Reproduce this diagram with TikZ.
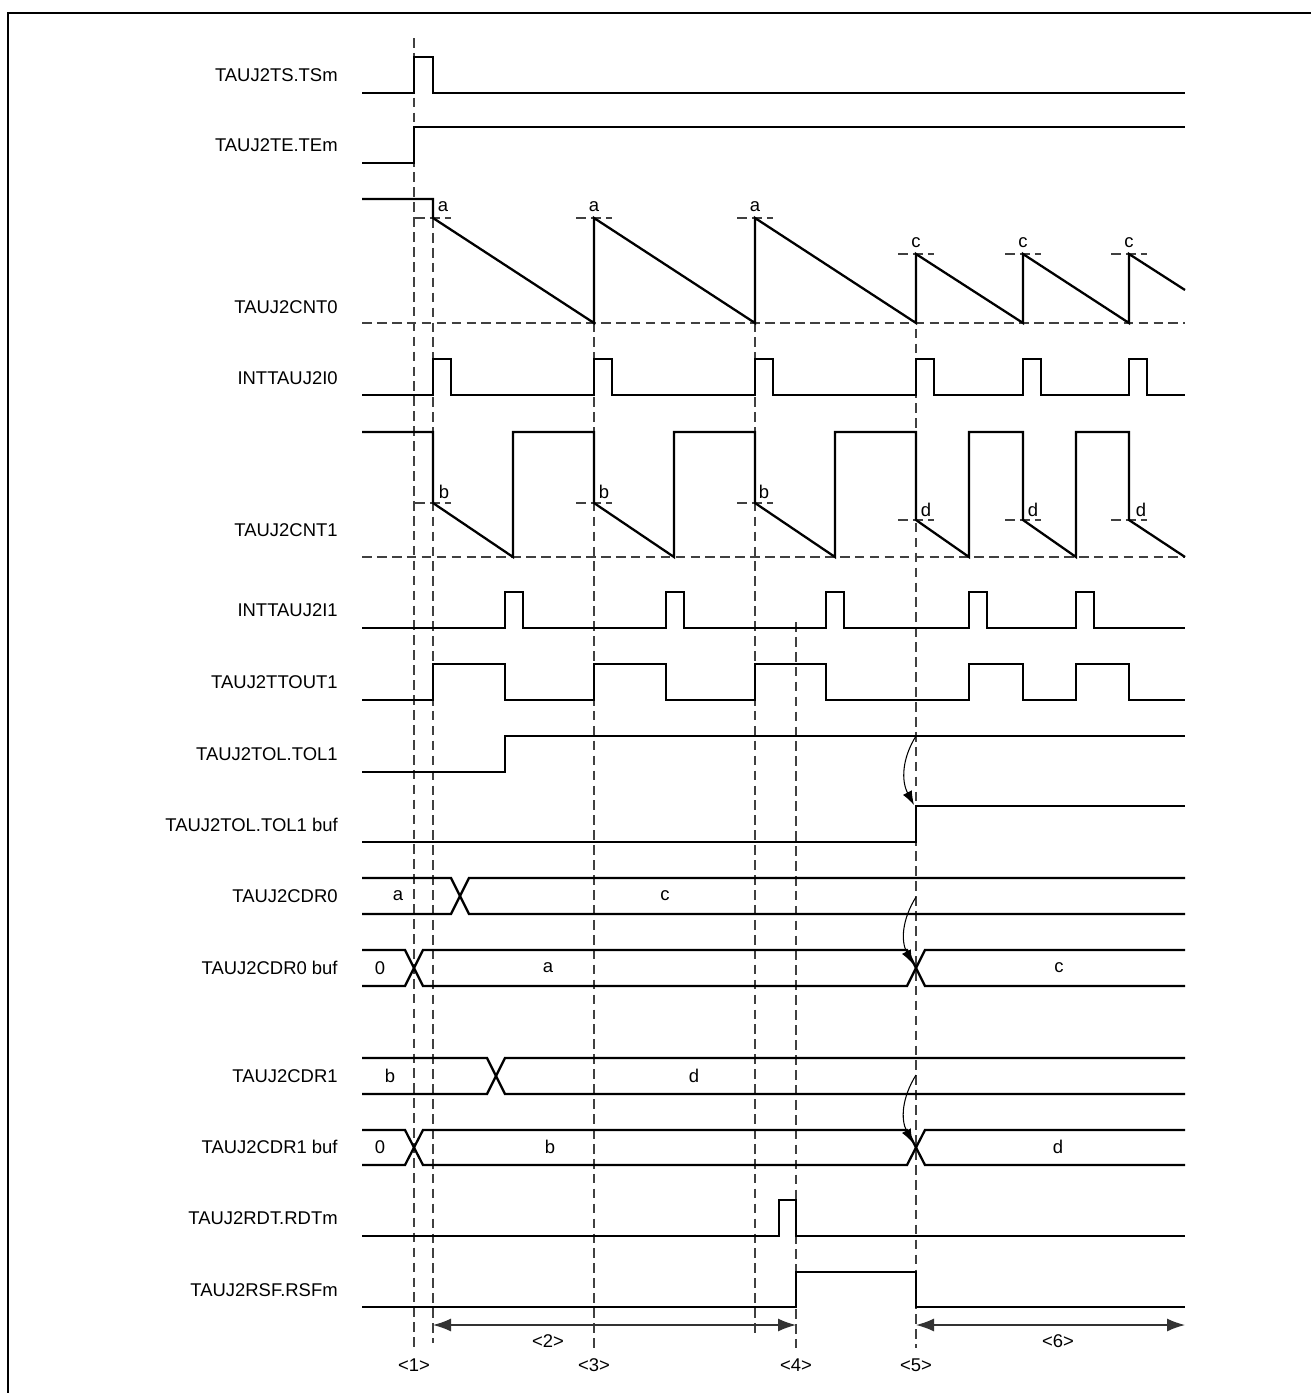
\documentclass[tikz,border=0pt]{standalone}
\usepackage{fontspec}
\setmainfont{Liberation Sans}
\usetikzlibrary{arrows.meta}

\begin{document}
\begin{tikzpicture}[x=0.02cm, y=-0.02cm,
  every node/.style={font=\fontsize{10.5}{12}\selectfont, inner sep=0pt},
  sig/.style={line width=1.3pt},
  guide/.style={black!75, line width=0.75pt, dash pattern=on 5.5pt off 3pt},
  span/.style={black!80, line width=0.8pt, {Latex[length=3.6mm,width=2.6mm]}-{Latex[length=3.6mm,width=2.6mm]}},
  load/.style={line width=0.6pt, -{Latex[length=2.8mm,width=2mm]}}]
\useasboundingbox (0,0) rectangle (1311,1393);
\draw[line width=1.7pt] (8,1393) -- (8,13) -- (1311,13);

\node[anchor=east] (ts) at (338,75) {TAUJ2TS.TSm};
\node[anchor=east] (te) at (338,145) {TAUJ2TE.TEm};
\node[anchor=east] (cnt0) at (338,307) {TAUJ2CNT0};
\node[anchor=east] (int0) at (338,378) {INTTAUJ2I0};
\node[anchor=east] (cnt1) at (338,530) {TAUJ2CNT1};
\node[anchor=east] (int1) at (338,610) {INTTAUJ2I1};
\node[anchor=east] (ttout) at (338,682) {TAUJ2TTOUT1};
\node[anchor=east] (tol) at (338,754) {TAUJ2TOL.TOL1};
\node[anchor=east] (tolbuf) at (338,825) {TAUJ2TOL.TOL1 buf};
\node[anchor=east] (cdr0) at (338,896) {TAUJ2CDR0};
\node[anchor=east] (cdr0buf) at (338,968) {TAUJ2CDR0 buf};
\node[anchor=east] (cdr1) at (338,1076) {TAUJ2CDR1};
\node[anchor=east] (cdr1buf) at (338,1147) {TAUJ2CDR1 buf};
\node[anchor=east] (rdt) at (338,1218) {TAUJ2RDT.RDTm};
\node[anchor=east] (rsf) at (338,1290) {TAUJ2RSF.RSFm};

\draw[guide] (414,38) -- (414,1348);
\draw[guide] (433,218) -- (433,1343);
\draw[guide] (594,218) -- (594,1348);
\draw[guide] (755,218) -- (755,1333);
\draw[guide] (796,622) -- (796,1348);
\draw[guide] (916,254) -- (916,1348);
\draw[guide] (362,323) -- (1185,323);
\draw[guide] (362,557) -- (1185,557);
\foreach \x in {433,594,755} {
  \draw[guide] (\x-18,218) -- (\x+18,218);
  \draw[guide] (\x-18,503) -- (\x+18,503);
}
\foreach \x in {916,1023,1129} {
  \draw[guide] (\x-18,254) -- (\x+18,254);
  \draw[guide] (\x-18,520) -- (\x+18,520);
}

\draw[sig] (362,93) -- (414,93) -- (414,57) -- (433,57) -- (433,93) -- (1185,93);
\draw[sig] (362,163) -- (414,163) -- (414,127) -- (1185,127);
\draw[sig] (362,199) -- (433,199) -- (433,218) -- (594,323) -- (594,218) -- (755,323) -- (755,218)
  -- (916,323) -- (916,254) -- (1023,323) -- (1023,254) -- (1129,323) -- (1129,254) -- (1185,290);
\draw[sig] (362,395) foreach \x in {433,594,755,916,1023,1129} {
  -- (\x,395) -- (\x,359) -- ({\x+18},359) -- ({\x+18},395) } -- (1185,395);
\draw[sig] (362,432) -- (433,432) -- (433,503) -- (513,557) -- (513,432) -- (594,432) -- (594,503)
  -- (674,557) -- (674,432) -- (755,432) -- (755,503) -- (835,557) -- (835,432) -- (916,432)
  -- (916,520) -- (969,557) -- (969,432) -- (1023,432) -- (1023,520) -- (1076,557) -- (1076,432)
  -- (1129,432) -- (1129,520) -- (1185,557);
\draw[sig] (362,628) foreach \x in {505,666,826,969,1076} {
  -- (\x,628) -- (\x,592) -- ({\x+18},592) -- ({\x+18},628) } -- (1185,628);
\draw[sig] (362,700) -- (433,700) -- (433,664) -- (505,664) -- (505,700) -- (594,700) -- (594,664)
  -- (666,664) -- (666,700) -- (755,700) -- (755,664) -- (826,664) -- (826,700) -- (969,700)
  -- (969,664) -- (1023,664) -- (1023,700) -- (1076,700) -- (1076,664) -- (1129,664) -- (1129,700)
  -- (1185,700);
\draw[sig] (362,772) -- (505,772) -- (505,736) -- (1185,736);
\draw[sig] (362,842) -- (916,842) -- (916,806) -- (1185,806);

\draw[sig] (362,878) -- (451,878) -- (469,914) -- (1185,914);
\draw[sig] (362,914) -- (451,914) -- (469,878) -- (1185,878);
\draw[sig] (362,950) -- (405,950) -- (423,986) -- (907,986) -- (925,950) -- (1185,950);
\draw[sig] (362,986) -- (405,986) -- (423,950) -- (907,950) -- (925,986) -- (1185,986);
\draw[sig] (362,1058) -- (487,1058) -- (505,1094) -- (1185,1094);
\draw[sig] (362,1094) -- (487,1094) -- (505,1058) -- (1185,1058);
\draw[sig] (362,1130) -- (405,1130) -- (423,1165) -- (907,1165) -- (925,1130) -- (1185,1130);
\draw[sig] (362,1165) -- (405,1165) -- (423,1130) -- (907,1130) -- (925,1165) -- (1185,1165);

\draw[sig] (362,1236) -- (779,1236) -- (779,1200) -- (796,1200) -- (796,1236) -- (1185,1236);
\draw[sig] (362,1307) -- (796,1307) -- (796,1272) -- (916,1272) -- (916,1307) -- (1185,1307);

\node (a1) at (443,207) {a};
\node (a2) at (594,207) {a};
\node (a3) at (755,207) {a};
\node (c1) at (916,243) {c};
\node (c2) at (1023,243) {c};
\node (c3) at (1129,243) {c};
\node (b1) at (444,492) {b};
\node (b2) at (604,492) {b};
\node (b3) at (764,492) {b};
\node (d1) at (926,510) {d};
\node (d2) at (1033,510) {d};
\node (d3) at (1141,510) {d};
\node (v0a) at (398,896) {a};
\node (v0c) at (665,896) {c};
\node (v1z) at (380,968) {0};
\node (v1a) at (548,968) {a};
\node (v1c) at (1059,968) {c};
\node (v2b) at (390,1076) {b};
\node (v2d) at (694,1076) {d};
\node (v3z) at (380,1147) {0};
\node (v3b) at (550,1147) {b};
\node (v3d) at (1058,1147) {d};

\draw[load] (916,736) to[out=238,in=118] (914,805);
\draw[load] (916,897) to[out=238,in=118] (913,964);
\draw[load] (916,1075) to[out=238,in=118] (913,1143);

\draw[span] (433,1325) -- (796,1325);
\draw[span] (916,1325) -- (1185,1325);
\node (p1) at (414,1365) {<1>};
\node (p2) at (548,1341) {<2>};
\node (p3) at (594,1365) {<3>};
\node (p4) at (796,1365) {<4>};
\node (p5) at (916,1365) {<5>};
\node (p6) at (1058,1341) {<6>};
\end{tikzpicture}
\end{document}
